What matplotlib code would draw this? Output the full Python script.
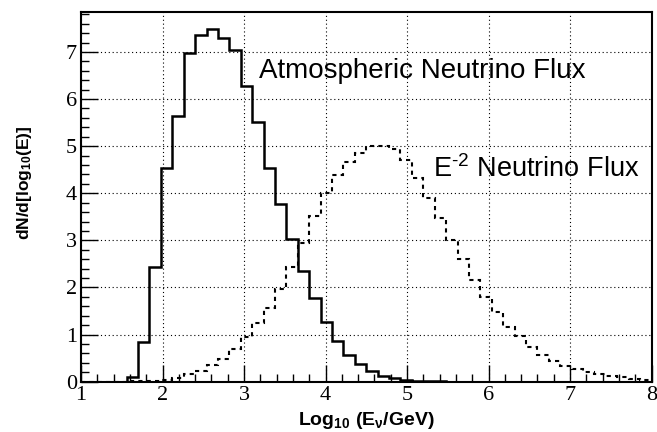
import numpy as np
import matplotlib
matplotlib.use("Agg")
import matplotlib.pyplot as plt
from matplotlib.ticker import MultipleLocator

# ---- data ----
x_min, x_max, n_bins = 1.0, 8.0, 50
atm_flux = [0, 0, 0, 0, 0.09, 0.85, 2.44, 4.53, 5.65, 6.98,
            7.36, 7.49, 7.29, 7.05, 6.27, 5.51, 4.53, 3.77, 3.02, 2.34,
            1.78, 1.26, 0.87, 0.57, 0.37, 0.23, 0.12, 0.07, 0.04, 0.02,
            0.01, 0.005, 0, 0, 0, 0, 0, 0, 0, 0,
            0, 0, 0, 0, 0, 0, 0, 0, 0, 0]
e2_flux = [0, 0, 0, 0.003, 0.005, 0.007, 0.012, 0.03, 0.07, 0.16,
           0.23, 0.35, 0.48, 0.69, 0.94, 1.24, 1.56, 1.97, 2.43, 2.95,
           3.52, 4.00, 4.39, 4.66, 4.86, 5.01, 5.00, 4.94, 4.71, 4.32,
           3.91, 3.47, 3.00, 2.60, 2.16, 1.80, 1.47, 1.17, 0.96, 0.74,
           0.57, 0.43, 0.34, 0.27, 0.21, 0.16, 0.13, 0.09, 0.06, 0.04]
x_ticks = [1, 2, 3, 4, 5, 6, 7, 8]
y_ticks = [0, 1, 2, 3, 4, 5, 6, 7]
label_atm = "Atmospheric Neutrino Flux"
label_e2 = r"E$^{\text{-}2}$ Neutrino Flux"
x_label = r"Log$_{\mathbf{10}}$ (E$_{\mathbf{\nu}}$/GeV)"
y_label = r"dN/d[log$_{\mathbf{10}}$(E)]"

plt.rcParams['mathtext.fontset'] = 'custom'
plt.rcParams['mathtext.rm'] = 'Liberation Sans'
plt.rcParams['mathtext.it'] = 'Liberation Sans'
plt.rcParams['mathtext.bf'] = 'Liberation Sans:bold'

edges = np.linspace(x_min, x_max, n_bins + 1)

fig = plt.figure(figsize=(6.57, 4.32), dpi=100)
ax = fig.add_axes([81/657, 1 - 381.7/432, (651.5 - 81)/657, (381.7 - 11.7)/432])

ax.stairs(atm_flux, edges, baseline=None, color='black', lw=1.8)
ax.stairs(e2_flux, edges, baseline=None, color='black', lw=1.5,
          linestyle=(0, (2.0, 2.0)))

ax.set_xlim(x_min, x_max)
ax.set_ylim(0, 7.855)
ax.set_xticks(x_ticks)
ax.set_yticks(y_ticks)
ax.xaxis.set_minor_locator(MultipleLocator(0.2))
ax.yaxis.set_minor_locator(MultipleLocator(0.2))
ax.tick_params(which='both', direction='in', top=False, right=False,
               colors='black', width=1.0)
ax.tick_params(which='major', length=12, labelsize=16, pad=3)
ax.tick_params(which='minor', length=6)
for lab in ax.get_xticklabels() + ax.get_yticklabels():
    lab.set_fontfamily('Liberation Serif')
ax.grid(True, which='major', color='black', linestyle=(0, (1, 2.5)), lw=0.8)
for s in ax.spines.values():
    s.set_linewidth(1.5)

ax.text(3.19, 6.44, label_atm, fontsize=20, family='Liberation Sans',
        ha='left', va='baseline')
ax.text(5.32, 4.34, label_e2, fontsize=19.5, family='Liberation Sans',
        ha='left', va='baseline')

fig.text(366/657, 1 - 425/432, x_label, fontsize=14,
         fontweight='bold', family='Liberation Sans', ha='center', va='baseline')
fig.text(24/657, 1 - 183/432, y_label, fontsize=12.5, rotation=90,
         fontweight='bold', family='Liberation Sans', ha='center', va='center')

fig.savefig('out.png', dpi=100, facecolor='white')
